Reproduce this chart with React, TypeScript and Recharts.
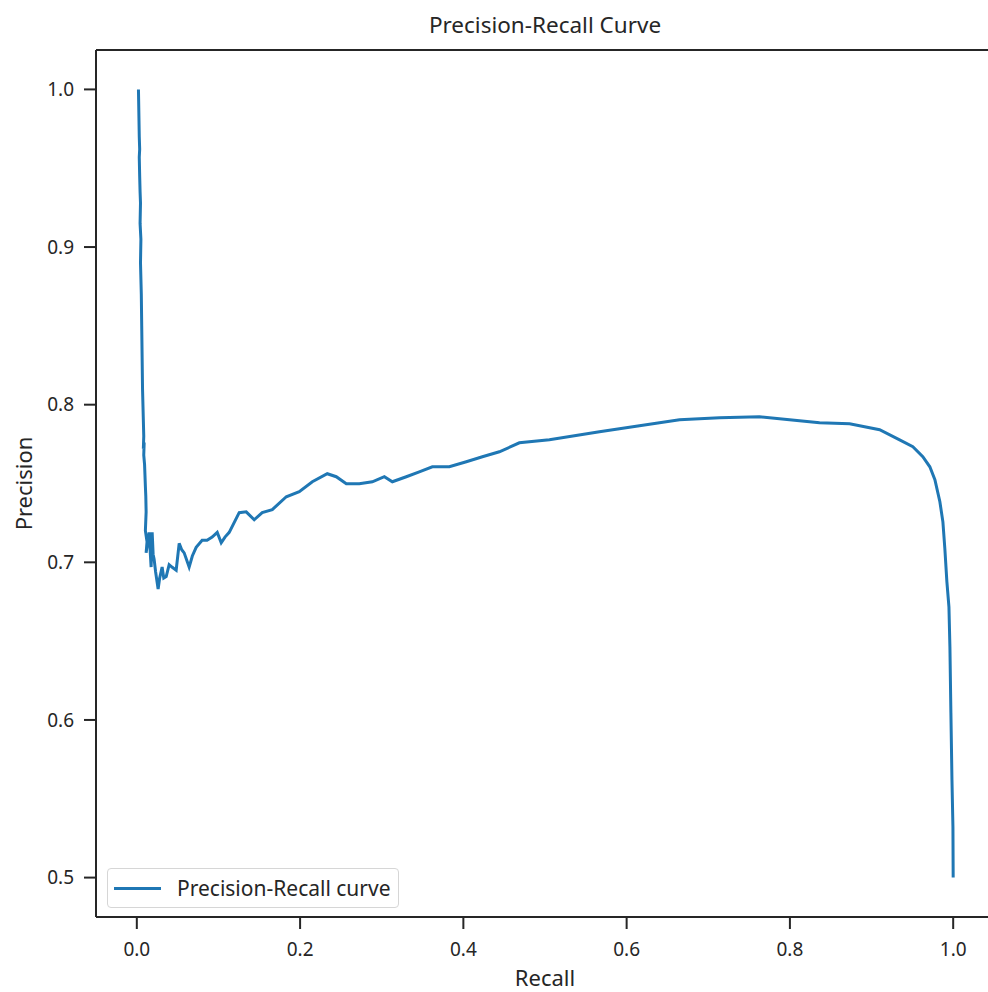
import { Legend, Line, LineChart, ReferenceLine, XAxis, YAxis } from 'recharts'

const recall = [
  0.002, 0.0025, 0.003, 0.0035, 0.003, 0.0035, 0.004, 0.0045, 0.004, 0.005,
  0.0045, 0.0055, 0.006, 0.0065, 0.007, 0.0075, 0.008, 0.0085, 0.008, 0.009,
  0.0085, 0.0095, 0.01, 0.0105, 0.011, 0.0114, 0.0105, 0.0125, 0.0114, 0.0151,
  0.0165, 0.0175, 0.0188, 0.02, 0.0212, 0.023, 0.0261, 0.028, 0.031, 0.033,
  0.036, 0.0396, 0.043, 0.0482, 0.0519, 0.055, 0.058, 0.0641, 0.068, 0.0727,
  0.08, 0.086, 0.0923, 0.0985, 0.1034, 0.108, 0.1132, 0.1254, 0.134, 0.1438,
  0.1536, 0.1659, 0.1831, 0.199, 0.215, 0.2333, 0.2443, 0.2566, 0.2725, 0.2885,
  0.3032, 0.313, 0.3301, 0.346, 0.362, 0.3828, 0.4036, 0.4233, 0.4441, 0.4686,
  0.5054, 0.5667, 0.6157, 0.6648, 0.7138, 0.7627, 0.7995, 0.8363, 0.8731, 0.9099,
  0.9344, 0.9506, 0.9628, 0.9714, 0.9776, 0.9837, 0.9874, 0.9898, 0.9923, 0.9948,
  0.996, 0.9972, 0.9985, 0.9997, 1.0,
]

const precision = [
  1.0, 0.985, 0.97, 0.962, 0.957, 0.945, 0.935, 0.928, 0.915, 0.905,
  0.89, 0.87, 0.85, 0.83, 0.81, 0.8, 0.79, 0.78, 0.772, 0.776,
  0.768, 0.762, 0.755, 0.748, 0.742, 0.732, 0.72, 0.713, 0.706, 0.719,
  0.706, 0.697, 0.719, 0.705, 0.702, 0.694, 0.683, 0.69, 0.697, 0.69,
  0.691, 0.6985, 0.697, 0.695, 0.712, 0.708, 0.706, 0.697, 0.704, 0.7095,
  0.714, 0.714, 0.716, 0.719, 0.7124, 0.716, 0.719, 0.7315, 0.732, 0.727,
  0.7315, 0.7334, 0.7416, 0.7448, 0.7511, 0.7562, 0.7543, 0.7498, 0.7498, 0.7511,
  0.7543, 0.7511, 0.7543, 0.7574, 0.7606, 0.7606, 0.7638, 0.767, 0.7701, 0.7758,
  0.7777, 0.7828, 0.7866, 0.7904, 0.7917, 0.7923, 0.7904, 0.7885, 0.7879, 0.7841,
  0.7777, 0.7733, 0.767, 0.7606, 0.7524, 0.7384, 0.7257, 0.7086, 0.6876, 0.6718,
  0.6464, 0.6046, 0.5621, 0.5323, 0.5,
]

const xTicks = [0, 0.2, 0.4, 0.6, 0.8, 1.0]
const yTicks = [0.5, 0.6, 0.7, 0.8, 0.9, 1.0]

const data = recall.map((r, i) => ({ recall: r, precision: precision[i] }))

const FONT = '"Noto Sans", sans-serif'
const INK = '#262626'
const BLUE = '#1f77b4'

function PrLegend() {
  return (
    <div
      style={{
        boxSizing: 'border-box',
        width: 292,
        height: 40,
        border: '1px solid #d6d6d6',
        borderRadius: 4,
        background: 'rgba(255,255,255,0.85)',
        display: 'flex',
        alignItems: 'center',
        fontFamily: FONT,
        fontSize: 21,
        color: INK,
      }}
    >
      <span style={{ display: 'inline-block', width: 47, height: 3, background: BLUE, marginLeft: 6, marginRight: 16 }} />
      <span style={{ lineHeight: '24px' }}>Precision-Recall curve</span>
    </div>
  )
}

export default function App() {
  return (
    <div style={{ position: 'absolute', left: 0, top: 0, width: 988, height: 992, overflow: 'hidden', background: '#fff' }}>
      <LineChart width={1000} height={992} data={data} margin={{ top: 50, right: 6, bottom: 0, left: 0 }} style={{ fontFamily: FONT }}>
        <XAxis
          type="number"
          dataKey="recall"
          domain={[-0.05, 1.05]}
          ticks={xTicks}
          tickFormatter={(v: number) => v.toFixed(1)}
          height={75}
          tickSize={12}
          tickMargin={14}
          axisLine={{ stroke: INK, strokeWidth: 2 }}
          tickLine={{ stroke: INK, strokeWidth: 2 }}
          tick={{ fill: INK, fontSize: 19, fontFamily: FONT }}
          label={{
            content: ({ viewBox }: any) => (
              <text x={viewBox.x + viewBox.width / 2} y={viewBox.y + 69} textAnchor="middle" fill={INK} fontSize={22} fontFamily={FONT}>
                Recall
              </text>
            ),
          }}
        />
        <YAxis
          type="number"
          dataKey="precision"
          domain={[0.475, 1.025]}
          ticks={yTicks}
          tickFormatter={(v: number) => v.toFixed(1)}
          width={96}
          tickSize={12}
          tickMargin={10}
          axisLine={{ stroke: INK, strokeWidth: 2 }}
          tickLine={{ stroke: INK, strokeWidth: 2 }}
          tick={{ fill: INK, fontSize: 19, fontFamily: FONT }}
          label={{
            content: ({ viewBox }: any) => {
              const cx = viewBox.x + 23
              const cy = viewBox.y + viewBox.height / 2
              return (
                <text x={cx} y={cy} transform={`rotate(-90 ${cx} ${cy})`} textAnchor="middle" dominantBaseline="central" fill={INK} fontSize={22} fontFamily={FONT}>
                  Precision
                </text>
              )
            },
          }}
        />
        <ReferenceLine
          y={1.025}
          stroke={INK}
          strokeWidth={2}
          ifOverflow="visible"
          label={{
            content: ({ viewBox }: any) => (
              <text x={viewBox.x + viewBox.width / 2} y={33} textAnchor="middle" fill={INK} fontSize={22.5} fontFamily={FONT}>
                Precision-Recall Curve
              </text>
            ),
          }}
        />
        <Legend
          layout="horizontal"
          verticalAlign="middle"
          align="center"
          content={() => <PrLegend />}
          wrapperStyle={{ position: 'absolute', left: 107, top: 868, width: 292, height: 40 }}
        />
        <Line
          type="linear"
          dataKey="precision"
          name="Precision-Recall curve"
          stroke={BLUE}
          strokeWidth={3}
          dot={false}
          activeDot={false}
          isAnimationActive={false}
        />
      </LineChart>
    </div>
  )
}
